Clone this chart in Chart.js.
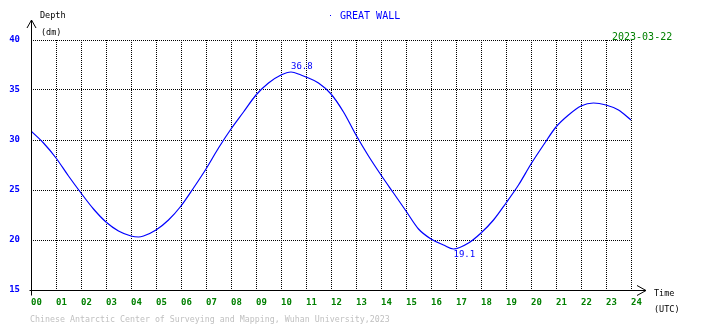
<!DOCTYPE html>
<html>
<head>
<meta charset="utf-8">
<script src="https://cdn.jsdelivr.net/npm/chart.js@4/dist/chart.umd.min.js"></script>
<style>
  html, body { margin: 0; padding: 0; background: #fff; }
  #wrap { width: 710px; height: 328px; }
</style>
</head>
<body>
<div id="wrap"><canvas id="tide"></canvas></div>
<script>
// tide record, hours (UTC) and depth (dm)
const hours = [0, 0.5, 1, 1.5, 2, 2.5, 3, 3.5, 4, 4.3, 4.5, 5, 5.5, 6, 6.5, 7, 7.5, 8, 8.5, 9, 9.5, 10,
  10.4, 10.8, 11, 11.5, 12, 12.5, 13, 13.5, 14, 14.5, 15, 15.5, 16, 16.5, 16.9, 17.5, 18, 18.5, 19,
  19.5, 20, 20.5, 21, 21.5, 22, 22.5, 23, 23.5, 24];
const depth = [30.9, 29.7, 28.2, 26.4, 24.7, 23.1, 21.8, 20.9, 20.4, 20.3, 20.4, 21.0, 22.0, 23.4, 25.2, 27.1, 29.2, 31.1, 32.8, 34.5, 35.7, 36.5,
  36.8, 36.5, 36.3, 35.7, 34.6, 32.8, 30.5, 28.4, 26.5, 24.7, 22.9, 21.1, 20.1, 19.5, 19.1, 19.7, 20.7, 22.0, 23.7,
  25.5, 27.6, 29.5, 31.3, 32.5, 33.4, 33.7, 33.5, 33.0, 32.0];
const xTicks = ['00', '01', '02', '03', '04', '05', '06', '07', '08', '09', '10', '11', '12',
  '13', '14', '15', '16', '17', '18', '19', '20', '21', '22', '23', '24'];
const yTicks = [15, 20, 25, 30, 35, 40];
const station = 'GREAT WALL';
const dateText = '2023-03-22';
const footer = 'Chinese Antarctic Center of Surveying and Mapping, Wuhan University,2023';

const MONO = '"DejaVu Sans Mono", "Liberation Mono", monospace';

// axes with arrows, captions, high/low labels
const decorations = {
  id: 'decorations',
  afterDraw(chart) {
    const ctx = chart.ctx;
    const { left, bottom } = chart.chartArea;
    const x0 = Math.round(left) + 0.5;
    const y0 = Math.round(bottom) + 0.5;
    ctx.save();
    ctx.strokeStyle = '#000';
    ctx.lineWidth = 1;
    ctx.beginPath();
    // y axis
    ctx.moveTo(x0, y0 + 5);
    ctx.lineTo(x0, 20);
    ctx.moveTo(x0 - 4.5, 28);
    ctx.lineTo(x0, 20);
    ctx.lineTo(x0 + 4.5, 28);
    // x axis
    ctx.moveTo(x0 - 2, y0);
    ctx.lineTo(646, y0);
    ctx.moveTo(637, y0 - 5);
    ctx.lineTo(646, y0);
    ctx.lineTo(637, y0 + 5);
    ctx.stroke();

    ctx.textBaseline = 'middle';
    ctx.textAlign = 'left';
    ctx.fillStyle = '#000';
    ctx.font = '8.5px ' + MONO;
    ctx.fillText('Depth', 40, 16);
    ctx.fillText('(dm)', 41, 33);
    ctx.fillText('Time', 654, 294);
    ctx.fillText('(UTC)', 654, 310);

    ctx.fillStyle = '#0000ff';
    ctx.font = '10px ' + MONO;
    ctx.fillRect(330, 15, 1, 1);
    ctx.fillText(station, 340, 16);

    const dw = ctx.measureText(dateText).width;
    ctx.fillStyle = '#fff';
    ctx.fillRect(608, 30, dw + 6, 10);
    ctx.fillStyle = '#008000';
    ctx.fillText(dateText, 612, 37);

    ctx.fillStyle = '#c0c0c0';
    ctx.font = '8.3px ' + MONO;
    ctx.fillText(footer, 30, 320);

    // highest and lowest water
    const xs = chart.scales.x, ys = chart.scales.y;
    const hi = depth.indexOf(Math.max(...depth));
    const lo = depth.indexOf(Math.min(...depth));
    ctx.fillStyle = '#0000ff';
    ctx.font = '9px ' + MONO;
    ctx.textBaseline = 'bottom';
    ctx.fillText(depth[hi].toFixed(1), xs.getPixelForValue(hours[hi]), ys.getPixelForValue(depth[hi]) - 0.5);
    ctx.textBaseline = 'top';
    ctx.fillText(depth[lo].toFixed(1), xs.getPixelForValue(hours[lo]), ys.getPixelForValue(depth[lo]) + 1);
    ctx.restore();
  }
};

new Chart(document.getElementById('tide'), {
  type: 'line',
  data: {
    datasets: [{
      data: hours.map((h, i) => ({ x: h, y: depth[i] })),
      borderColor: '#0000ff',
      borderWidth: 1.2,
      pointRadius: 0,
      cubicInterpolationMode: 'monotone',
      fill: false
    }]
  },
  options: {
    responsive: true,
    maintainAspectRatio: false,
    animation: false,
    events: [],
    layout: { padding: { left: 0, top: 40, right: 79, bottom: 0 } },
    plugins: { legend: { display: false }, tooltip: { enabled: false } },
    scales: {
      x: {
        type: 'linear',
        min: 0,
        max: 24,
        afterFit(scale) { scale.height = 38; },
        afterBuildTicks(scale) { scale.ticks = xTicks.map((t, i) => ({ value: i })); },
        grid: { color: '#000', lineWidth: 1, drawTicks: false },
        border: { display: false, dash: [1, 1] },
        ticks: {
          align: 'start',
          padding: 7,
          maxRotation: 0,
          autoSkip: false,
          color: '#008000',
          font: { family: MONO, size: 9, weight: 'bold' },
          callback: (v, i) => xTicks[i]
        }
      },
      y: {
        min: 15,
        max: 40,
        afterFit(scale) { scale.width = 31; },
        afterBuildTicks(scale) { scale.ticks = yTicks.map(v => ({ value: v })); },
        grid: { color: '#000', lineWidth: 1, drawTicks: false },
        border: { display: false, dash: [1, 1] },
        ticks: {
          padding: 11,
          color: '#0000ff',
          font: { family: MONO, size: 9, weight: 'bold' },
          callback: v => String(v)
        }
      }
    }
  },
  plugins: [decorations]
});
</script>
</body>
</html>
